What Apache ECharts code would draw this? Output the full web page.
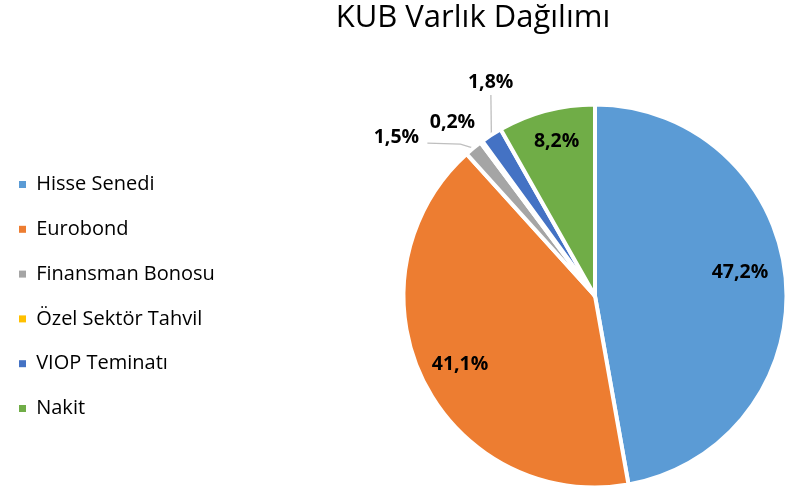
<!DOCTYPE html>
<html><head><meta charset="utf-8">
<script src="https://cdn.jsdelivr.net/npm/echarts@6/dist/echarts.min.js"></script>
<style>html,body{margin:0;padding:0;background:#fff}#c{width:797px;height:494px}</style>
</head><body><div id="c"></div>
<script>
const titleText = 'KUB Varlık Dağılımı';
const categories = ['Hisse Senedi', 'Eurobond', 'Finansman Bonosu', 'Özel Sektör Tahvil', 'VIOP Teminatı', 'Nakit'];
const values = [47.2, 41.1, 1.5, 0.2, 1.8, 8.2];
const colors = ['#5B9BD5', '#ED7D31', '#A5A5A5', '#FFC000', '#4472C4', '#70AD47'];

const CX = 595, CY = 296, R = 191.5;
// label placement: anchor at k*R along slice mid-angle, then shift; optional leader line points relative to anchor
const place = [
  {k: 0.5, s: [49.6, -15.6]},
  {k: 0.5, s: [-49, 26]},
  {k: 1, s: [-77, -11], line: [[-13, -4], [-46, -5]]},
  {k: 1, s: [-29, -19]},
  {k: 1, s: [-0.7, -53], line: [[-0.5, -40]]},
  {k: 0.5, s: [-14, -62]}
];
function midDir(i) {
  const tot = values.reduce((a, b) => a + b, 0);
  let c = 0;
  for (let j = 0; j < i; j++) c += values[j];
  const t = (c + values[i] / 2) / tot * 2 * Math.PI;
  return [Math.sin(t), -Math.cos(t)];
}

const chart = echarts.init(document.getElementById('c'), null, {renderer: 'canvas'});
chart.setOption({
  animation: false,
  title: {
    text: titleText, left: 468, top: -2, textAlign: 'center',
    textStyle: {fontFamily: 'Open Sans', fontSize: 31, fontWeight: 'normal', color: '#000'}
  },
  legend: {
    orient: 'vertical', left: 19, top: 173.5, padding: 0,
    itemWidth: 7, itemHeight: 7, itemGap: 22.8, icon: 'rect',
    itemStyle: {borderWidth: 0},
    textStyle: {fontFamily: 'Open Sans', fontSize: 20, color: '#000', lineHeight: 22, padding: [0, 0, 0, 5.2]},
    data: categories
  },
  series: [{
    type: 'pie',
    center: [CX, CY], radius: [0, R],
    startAngle: 90, clockwise: true,
    avoidLabelOverlap: false,
    itemStyle: {borderColor: '#fff', borderWidth: 4},
    label: {
      show: true, position: 'outside', color: '#000',
      fontFamily: 'Open Sans', fontWeight: 'bold', fontSize: 19.5,
      formatter: p => p.value.toFixed(1).replace('.', ',') + '%'
    },
    labelLine: {show: true, lineStyle: {color: '#BFBFBF', width: 1.3}},
    labelLayout: function (p) {
      const i = p.dataIndex;
      const d = midDir(i);
      const pl = place[i];
      const ax = CX + d[0] * R * pl.k, ay = CY + d[1] * R * pl.k;
      const res = {x: ax + pl.s[0], y: ay + pl.s[1], align: 'center', verticalAlign: 'middle'};
      if (pl.line) {
        res.labelLinePoints = [[ax, ay]].concat(pl.line.map(q => [ax + q[0], ay + q[1]]));
      }
      return res;
    },
    emphasis: {disabled: true},
    data: categories.map((n, i) => ({
      name: n, value: values[i],
      itemStyle: {color: colors[i]},
      labelLine: {show: !!place[i].line}
    }))
  }]
});
</script></body></html>
